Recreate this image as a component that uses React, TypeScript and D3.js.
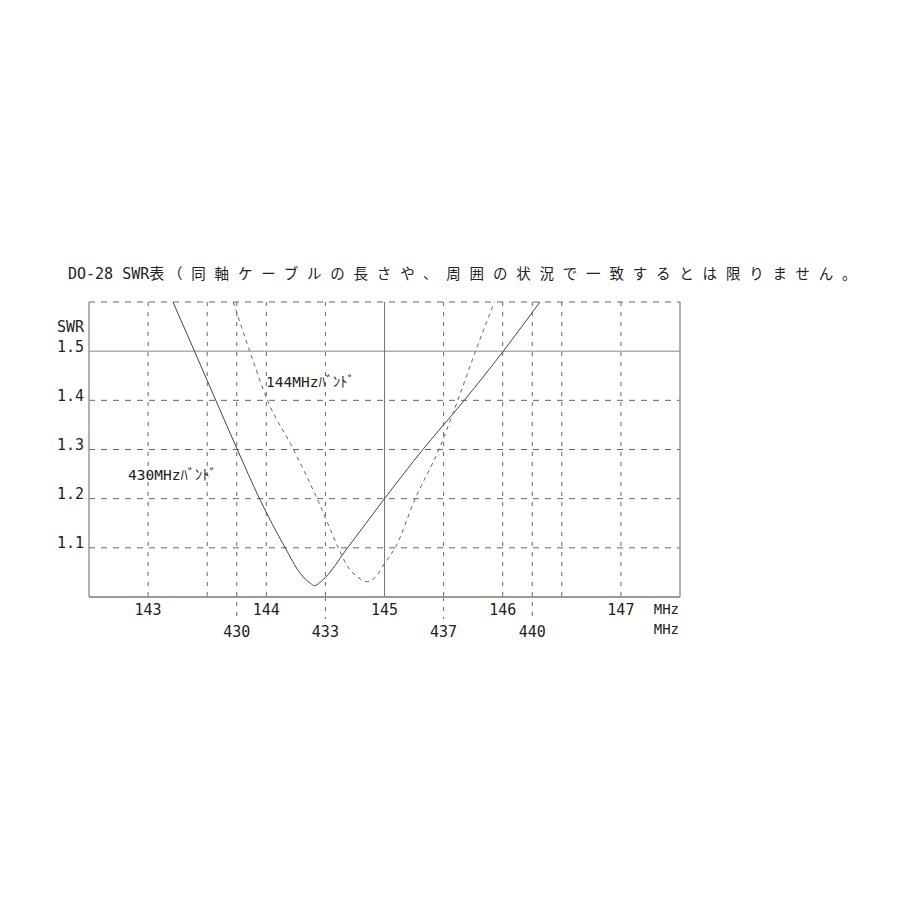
import React from "react";
import * as d3 from "d3";

// ---- data ----
const band144Freq = [143.72, 143.86, 144.01, 144.23, 144.43, 144.61, 144.68, 144.77, 144.85, 144.94, 145.0, 145.09, 145.26, 145.46, 145.62, 145.77, 145.93];
const band144Swr = [1.6, 1.5, 1.4, 1.3, 1.2, 1.1, 1.065, 1.041, 1.031, 1.045, 1.068, 1.1, 1.2, 1.3, 1.4, 1.5, 1.6];

const band430Freq = [427.84, 428.57, 429.29, 430.02, 430.77, 431.64, 432.15, 432.49, 432.63, 432.9, 433.75, 435.0, 436.3, 437.7, 439.02, 440.26];
const band430Swr = [1.6, 1.5, 1.4, 1.3, 1.2, 1.1, 1.048, 1.028, 1.023, 1.034, 1.1, 1.2, 1.3, 1.4, 1.5, 1.6];

const swrTicks = [1.1, 1.2, 1.3, 1.4, 1.5];
const mhz144Ticks = [143, 144, 145, 146, 147];
const mhz144Grid = [143, 143.5, 144, 144.5, 145.5, 146, 146.5, 147];
const mhz430Ticks = [430, 433, 437, 440];

const title1 = "DO-28 SWR表";
const title2 = "（同軸ケーブルの長さや、周囲の状況で一致するとは限りません。";
const label144 = "144MHzﾊﾞﾝﾄﾞ";
const label430 = "430MHzﾊﾞﾝﾄﾞ";

const MONO = "'DejaVu Sans Mono', 'Noto Sans CJK JP', monospace";
const JP = "'Noto Sans CJK JP', 'DejaVu Sans Mono', sans-serif";

export default function App() {
  const x144 = d3.scaleLinear().domain([142.5, 147.5]).range([89, 680]);
  const x430 = d3.scaleLinear().domain([425, 445]).range([89, 680]);
  const y = d3.scaleLinear().domain([1.0, 1.6]).range([597, 302]);

  const line144 = d3
    .line<number>()
    .x((_, i) => x144(band144Freq[i]))
    .y((d) => y(d))
    .curve(d3.curveMonotoneX);
  const line430 = d3
    .line<number>()
    .x((_, i) => x430(band430Freq[i]))
    .y((d) => y(d))
    .curve(d3.curveMonotoneX);

  const gridColor = "#666";
  const [x0, x1] = x144.range();
  const yTop = y(1.6);
  const yBot = y(1.0);

  return (
    <svg
      width={900}
      height={900}
      style={{ position: "absolute", left: 0, top: 0, background: "#fff" }}
    >
      <rect x={0} y={0} width={900} height={900} fill="#fff" />
      {/* title */}
      <text x={68} y={278.5} fontFamily={MONO} fontSize={15} fill="#222">
        {title1}
      </text>
      <text x={168} y={278.5} fontFamily={JP} fontSize={14.5} letterSpacing={8.8} fill="#222">
        {title2}
      </text>

      {/* horizontal grid */}
      {swrTicks.map((v) => (
        <line
          key={"h" + v}
          x1={x0}
          x2={x1}
          y1={y(v)}
          y2={y(v)}
          stroke={v === 1.5 ? "#888" : gridColor}
          strokeWidth={1}
          strokeDasharray={v === 1.5 ? undefined : "6,6"}
        />
      ))}
      <line x1={x0} x2={x1} y1={yTop} y2={yTop} stroke={gridColor} strokeDasharray="6,6" />

      {/* vertical grid 144 */}
      {mhz144Grid.map((v) => (
        <line
          key={"v" + v}
          x1={x144(v)}
          x2={x144(v)}
          y1={yTop}
          y2={yBot}
          stroke={gridColor}
          strokeDasharray="4,6"
        />
      ))}
      <line x1={x144(145)} x2={x144(145)} y1={yTop} y2={yBot} stroke="#777" strokeWidth={1} />
      {/* vertical grid 430 */}
      {mhz430Ticks.map((v) => (
        <line
          key={"w" + v}
          x1={x430(v)}
          x2={x430(v)}
          y1={v === 430 || v === 440 ? yTop : yBot}
          y2={yBot + 22}
          stroke={gridColor}
          strokeDasharray="4,6"
        />
      ))}

      {/* axes / frame */}
      <line x1={x0} x2={x0} y1={yTop} y2={yBot} stroke="#999" strokeWidth={1.5} />
      <line x1={x1} x2={x1} y1={yTop} y2={yBot} stroke="#999" strokeWidth={1.5} />
      <line x1={x0} x2={x1} y1={yBot} y2={yBot} stroke="#999" strokeWidth={2} />

      {/* curves */}
      <path d={line430(band430Swr) || ""} fill="none" stroke="#444" strokeWidth={1} />
      <path
        d={line144(band144Swr) || ""}
        fill="none"
        stroke="#666"
        strokeWidth={1}
        strokeDasharray="4,4"
      />

      {/* y labels */}
      <text x={84} y={331.5} textAnchor="end" fontFamily={MONO} fontSize={15} fill="#222">
        SWR
      </text>
      {swrTicks.map((v) => (
        <text
          key={"yl" + v}
          x={84}
          y={y(v) + 0.5}
          textAnchor="end"
          fontFamily={MONO}
          fontSize={15}
          fill="#222"
        >
          {v.toFixed(1)}
        </text>
      ))}

      {/* x labels */}
      {mhz144Ticks.map((v) => (
        <text
          key={"xl" + v}
          x={x144(v)}
          y={614.5}
          textAnchor="middle"
          fontFamily={MONO}
          fontSize={15}
          fill="#222"
        >
          {v}
        </text>
      ))}
      {mhz430Ticks.map((v) => (
        <text
          key={"xm" + v}
          x={x430(v)}
          y={636.5}
          textAnchor="middle"
          fontFamily={MONO}
          fontSize={15}
          fill="#222"
        >
          {v}
        </text>
      ))}
      <text x={679} y={613.5} textAnchor="end" fontFamily={MONO} fontSize={14} fill="#222">
        MHz
      </text>
      <text x={679} y={633.5} textAnchor="end" fontFamily={MONO} fontSize={14} fill="#222">
        MHz
      </text>

      {/* band labels */}
      <text x={266} y={387} fontFamily={MONO} fontSize={14.5} fill="#222">
        {label144}
      </text>
      <text x={128} y={480} fontFamily={MONO} fontSize={14.5} fill="#222">
        {label430}
      </text>
    </svg>
  );
}
